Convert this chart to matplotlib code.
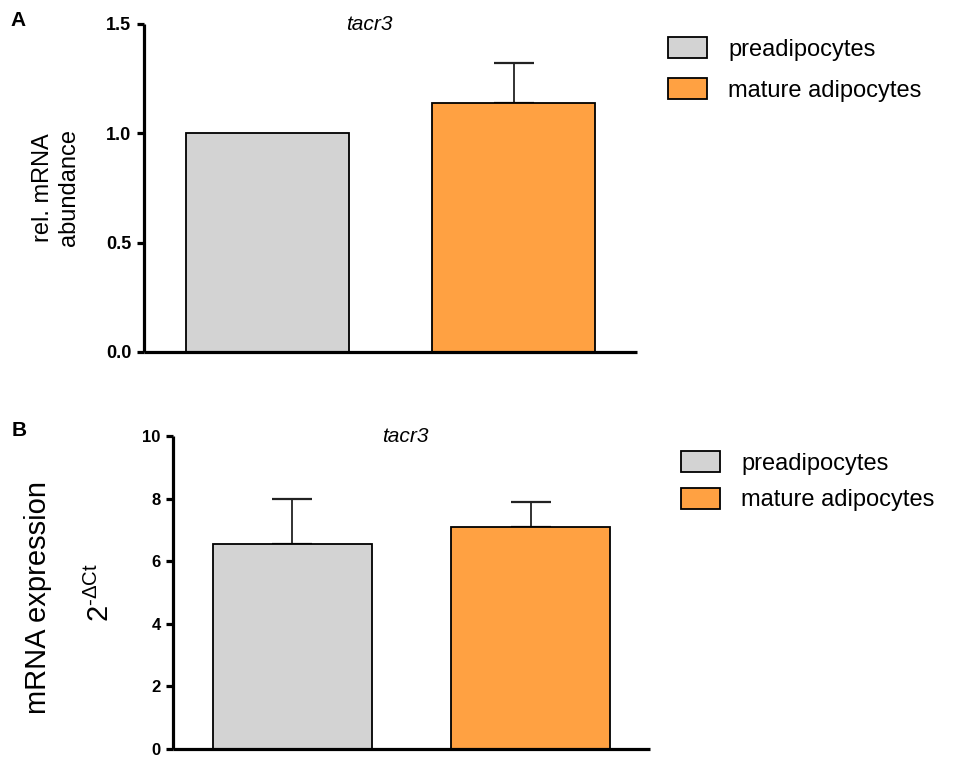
import matplotlib
matplotlib.use("Agg")
import matplotlib.pyplot as plt
import matplotlib.patches as mpatches
import numpy as np

plt.rcParams["font.family"] = ["Liberation Sans", "DejaVu Sans"]
plt.rcParams["mathtext.fontset"] = "custom"
plt.rcParams["mathtext.rm"] = "Liberation Sans"

# ── data ──────────────────────────────────────────────────────────────────────
groups = ["preadipocytes", "mature adipocytes"]
colors = ["#d3d3d3", "#ffa142"]

# panel A: relative mRNA abundance
a_mean = [1.00, 1.14]
a_err  = [0.00, 0.18]
a_ticks = [0.0, 0.5, 1.0, 1.5]

# panel B: 2^-dCt expression
b_mean = [6.55, 7.08]
b_err  = [1.43, 0.80]
b_ticks = [0, 2, 4, 6, 8, 10]

W, H = 979, 760
fig = plt.figure(figsize=(W / 100, H / 100), dpi=100)


def px_axes(left, right, top, bottom):
    return fig.add_axes([left / W, 1 - bottom / H, (right - left) / W, (bottom - top) / H])


def style(ax, ticks, fmt):
    ax.set_xlim(-0.5, 1.5)
    ax.set_ylim(ticks[0], ticks[-1])
    ax.set_yticks(ticks)
    ax.set_yticklabels([fmt.format(t) for t in ticks], fontweight="bold")
    ax.set_xticks([])
    ax.spines[["top", "right"]].set_visible(False)
    for s in ["left", "bottom"]:
        ax.spines[s].set_linewidth(2.3)
    ax.tick_params(axis="y", direction="out", length=5, width=2.3, pad=4)
    for sp in ax.spines.values():
        sp.set_capstyle("butt")


def bars(ax, mean, err, width):
    x = np.arange(len(mean))
    ax.bar(x, mean, width=width, color=colors, edgecolor="black", linewidth=1.3, zorder=2)
    # only upward error bars, skip groups without error
    for xi, m, e in zip(x, mean, err):
        if e > 0:
            ax.errorbar(xi, m, yerr=[[0], [e]], fmt="none", ecolor="#222222",
                        elinewidth=1.3, capsize=14.5, capthick=1.6, zorder=1)


# ── panel A ──────────────────────────────────────────────────────────────────
axA = px_axes(144, 637, 24, 352)
bars(axA, a_mean, a_err, 0.66)
style(axA, a_ticks, "{:.1f}")
axA.tick_params(axis="y", labelsize=13)
axA.text(0.458, 1.0, "tacr3", transform=axA.transAxes, ha="center", va="center",
         fontsize=15, style="italic")
fig.text(10 / W, 1 - 20 / H, "A", fontsize=15, fontweight="bold", ha="left", va="center")
fig.text(56 / W, 1 - 188 / H, "rel. mRNA\nabundance", rotation=90, fontsize=17,
         ha="center", va="center", multialignment="center", linespacing=1.25)

handles = [mpatches.Patch(facecolor=c, edgecolor="black", linewidth=1.3) for c in colors]
axA.legend(handles, groups, loc="upper left", bbox_to_anchor=(668 / W, 1 - 37 / H),
           bbox_transform=fig.transFigure, frameon=False, fontsize=17,
           handlelength=1.65, handleheight=1.0, handletextpad=0.9,
           labelspacing=0.75, borderpad=0, borderaxespad=0)

# ── panel B ──────────────────────────────────────────────────────────────────
axB = px_axes(173, 650, 436, 749)
bars(axB, b_mean, b_err, 0.668)
style(axB, b_ticks, "{:d}")
axB.tick_params(axis="y", labelsize=12)
axB.text(0.486, 1.0, "tacr3", transform=axB.transAxes, ha="center", va="center",
         fontsize=15, style="italic")
fig.text(12 / W, 1 - 430 / H, "B", fontsize=15, fontweight="bold", ha="left", va="center")
fig.text(38 / W, 1 - 598 / H, "mRNA expression", rotation=90, fontsize=21,
         ha="center", va="center")
fig.text(100 / W, 1 - 592 / H, r"$\mathregular{2^{\text{-}\Delta Ct}}$", rotation=90, fontsize=21,
         ha="center", va="center")

axB.legend(handles, groups, loc="upper left", bbox_to_anchor=(681 / W, 1 - 451 / H),
           bbox_transform=fig.transFigure, frameon=False, fontsize=17,
           handlelength=1.65, handleheight=1.0, handletextpad=0.9,
           labelspacing=0.55, borderpad=0, borderaxespad=0)

fig.savefig("out.png", dpi=100)
